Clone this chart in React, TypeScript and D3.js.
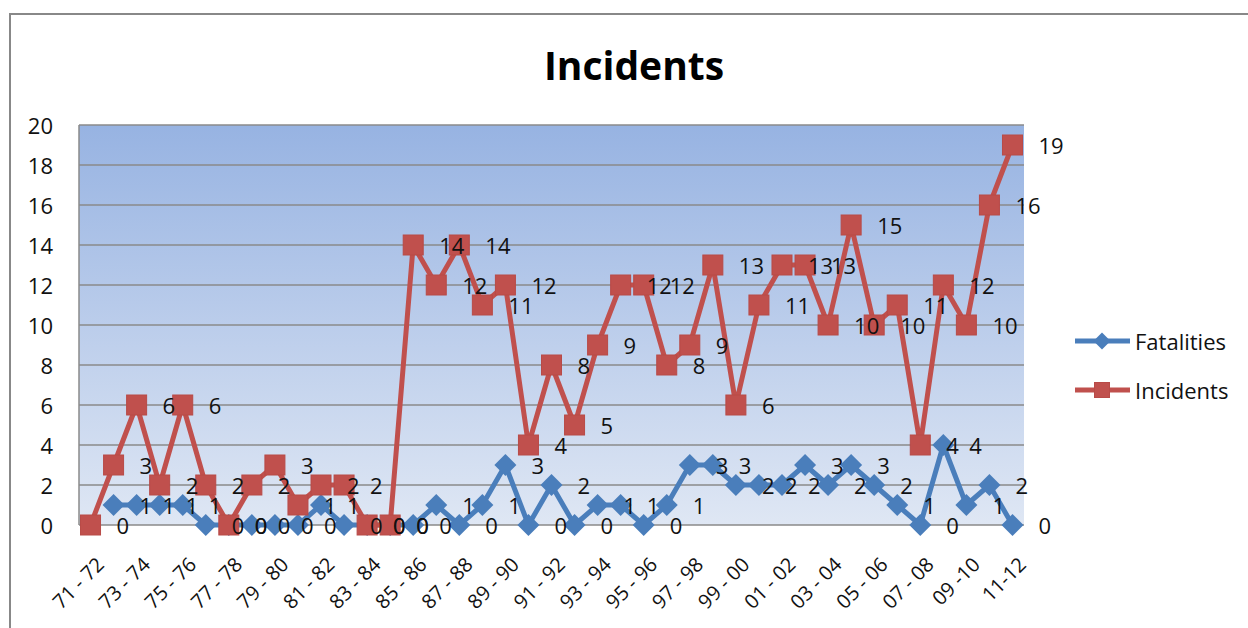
import React, { useEffect, useRef } from "react";
import * as d3 from "d3";

const categories: string[] = [
  "71 - 72", "72 - 73", "73 - 74", "74 - 75", "75 - 76", "76 - 77", "77 - 78", "78 - 79",
  "79 - 80", "80 - 81", "81 - 82", "82 - 83", "83 - 84", "84 - 85", "85 - 86", "86 - 87",
  "87 - 88", "88 - 89", "89 - 90", "90 - 91", "91 - 92", "92 - 93", "93 - 94", "94 - 95",
  "95 - 96", "96 - 97", "97 - 98", "98 - 99", "99 - 00", "00 - 01", "01 - 02", "02 - 03",
  "03 - 04", "04 - 05", "05 - 06", "06 - 07", "07 - 08", "08 - 09", "09 -10", "10 - 11", "11-12",
];

const fatalities: (number | null)[] = [
  null, 1, 1, 1, 1, 0, 0, 0, 0, 0, 1, 0, 0, 0, 0, 1, 0, 1, 3, 0, 2,
  0, 1, 1, 0, 1, 3, 3, 2, 2, 2, 3, 2, 3, 2, 1, 0, 4, 1, 2, 0,
];

const incidents: number[] = [
  0, 3, 6, 2, 6, 2, 0, 2, 3, 1, 2, 2, 0, 0, 14, 12, 14, 11, 12, 4, 8,
  5, 9, 12, 12, 8, 9, 13, 6, 11, 13, 13, 10, 15, 10, 11, 4, 12, 10, 16, 19,
];

const yTicks: number[] = [0, 2, 4, 6, 8, 10, 12, 14, 16, 18, 20];

const W = 1248;
const H = 628;
const FONT = "'Open Sans', 'Noto Sans', sans-serif";
const BLUE = "#4A7EBB";
const RED = "#C0504D";

const App = () => {
  const svgRef = useRef<SVGSVGElement | null>(null);

  useEffect(() => {
    const svg = d3.select(svgRef.current);
    svg.selectAll("*").remove();

    const left = 79, right = 1024, top = 125, bottom = 525;

    const x = d3.scalePoint<string>().domain(categories).range([left, right]).padding(0.5);
    const y = d3.scaleLinear().domain([0, 20]).range([bottom, top]);

    // outer chart frame
    svg.append("path")
      .attr("d", `M10,${H} V14 H${W}`)
      .attr("fill", "none")
      .attr("stroke", "#888")
      .attr("stroke-width", 2);

    // title
    svg.append("text")
      .attr("x", 634).attr("y", 80)
      .attr("text-anchor", "middle")
      .attr("font-family", FONT)
      .attr("font-weight", "bold")
      .attr("font-size", 39)
      .text("Incidents");

    // plot area gradient
    const defs = svg.append("defs");
    const grad = defs.append("linearGradient")
      .attr("id", "plotBg").attr("x1", 0).attr("y1", 0).attr("x2", 0).attr("y2", 1);
    grad.append("stop").attr("offset", "0%").attr("stop-color", "#97B3E2");
    grad.append("stop").attr("offset", "100%").attr("stop-color", "#DFE7F4");

    svg.append("rect")
      .attr("x", left).attr("y", top)
      .attr("width", right - left).attr("height", bottom - top)
      .attr("fill", "url(#plotBg)");

    // gridlines
    svg.append("g")
      .selectAll("line")
      .data(yTicks)
      .join("line")
      .attr("x1", left).attr("x2", right)
      .attr("y1", d => y(d)).attr("y2", d => y(d))
      .attr("stroke", "#8A8A8A")
      .attr("stroke-width", 1.5);

    svg.append("line")
      .attr("x1", left).attr("x2", left).attr("y1", top).attr("y2", bottom)
      .attr("stroke", "#8A8A8A").attr("stroke-width", 1.5);

    // y tick labels
    svg.append("g")
      .selectAll("text")
      .data(yTicks)
      .join("text")
      .attr("x", 53).attr("y", d => y(d))
      .attr("text-anchor", "end")
      .attr("dominant-baseline", "central")
      .attr("font-family", FONT)
      .attr("font-size", 22)
      .attr("fill", "#111")
      .text(d => d);

    // x labels, every other category
    svg.append("g")
      .selectAll("text")
      .data(categories.filter((_, i) => i % 2 === 0))
      .join("text")
      .attr("transform", d => `translate(${(x(d) as number) + 5},${bottom + 31}) rotate(-45)`)
      .attr("text-anchor", "end")
      .attr("dy", "0.7em")
      .attr("font-family", FONT)
      .attr("font-size", 20)
      .attr("fill", "#111")
      .text(d => d);

    const series = [
      { name: "Fatalities", values: fatalities, color: BLUE, marker: "diamond" },
      { name: "Incidents", values: incidents, color: RED, marker: "square" },
    ];

    const line = d3.line<number | null>()
      .defined(d => d !== null)
      .x((_, i) => x(categories[i]) as number)
      .y(d => y(d as number));

    const drawMarker = (g: any, kind: string, cx: number, cy: number, size: number, color: string) => {
      if (kind === "square") {
        g.append("rect")
          .attr("x", cx - size / 2).attr("y", cy - size / 2)
          .attr("width", size).attr("height", size)
          .attr("fill", color)
          .attr("stroke", "#B84A47").attr("stroke-width", 1);
      } else {
        const r = size / 2 + 1;
        g.append("path")
          .attr("d", `M${cx},${cy - r} L${cx + r},${cy} L${cx},${cy + r} L${cx - r},${cy} Z`)
          .attr("fill", color);
      }
    };

    series.forEach(s => {
      const g = svg.append("g");
      g.append("path")
        .attr("d", line(s.values as (number | null)[]))
        .attr("fill", "none")
        .attr("stroke", s.color)
        .attr("stroke-width", 5)
        .attr("stroke-linejoin", "round");
      s.values.forEach((v, i) => {
        if (v === null) return;
        drawMarker(g, s.marker, x(categories[i]) as number, y(v), 20, s.color);
      });
    });

    // data labels
    series.forEach(s => {
      svg.append("g")
        .selectAll("text")
        .data(s.values.map((v, i) => ({ v, c: categories[i] })).filter(d => d.v !== null))
        .join("text")
        .attr("x", d => (x(d.c) as number) + 26)
        .attr("y", d => y(d.v as number))
        .attr("dominant-baseline", "central")
        .attr("font-family", FONT)
        .attr("font-size", 22)
        .attr("fill", "#111")
        .text(d => d.v as number);
    });

    // legend
    series.forEach((s, i) => {
      const ly = 341 + i * 49;
      const g = svg.append("g");
      g.append("line")
        .attr("x1", 1075).attr("x2", 1130).attr("y1", ly).attr("y2", ly)
        .attr("stroke", s.color).attr("stroke-width", 5);
      drawMarker(g, s.marker, 1102, ly, 15, s.color);
      g.append("text")
        .attr("x", 1135).attr("y", ly)
        .attr("dominant-baseline", "central")
        .attr("font-family", FONT)
        .attr("font-size", 22)
        .attr("fill", "#111")
        .text(s.name);
    });
  }, []);

  return (
    <svg
      ref={svgRef}
      width={W}
      height={H}
      style={{ position: "absolute", left: 0, top: 0, background: "#fff" }}
    ></svg>
  );
};

export default App;
